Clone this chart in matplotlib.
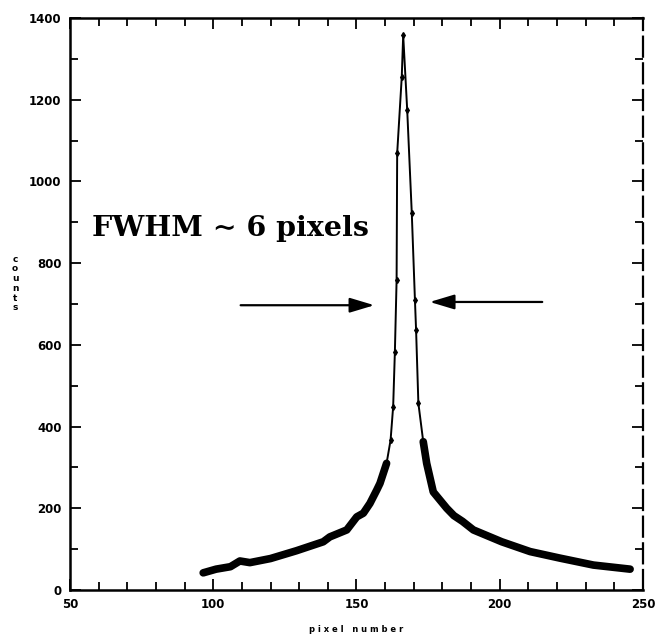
import matplotlib.pyplot as plt
import numpy as np

# pixel number vs counts
pix = np.array([96.5, 101, 106, 109.3, 112.8, 120, 129, 138.4, 140.7, 146.6,
                150.1, 152.4, 154.7, 157.1, 158.2, 160.5, 161.9, 162.8, 163.4, 164.0,
                164.2, 165.8, 166.3, 167.7, 169.3, 170.4, 170.8, 171.6, 173.3, 174.5,
                176.8, 181.5, 184, 187, 190.8, 200.7, 210.6, 221, 232.7, 245.5])
counts = np.array([42, 51, 57, 71, 67, 77, 96, 118, 130, 147,
                   179, 188, 212, 245, 261, 310, 367, 449, 583, 759,
                   1069, 1256, 1358, 1175, 922, 710, 636, 457, 363, 310,
                   240, 200, 182, 168, 147, 118, 94, 78, 61, 51])

fig = plt.figure(figsize=(6.57, 6.37), dpi=100)
ax = fig.add_axes([0.1065, 0.0738, 0.8722, 0.8979])

# thin line through everything, thick band in the dense tails
ax.plot(pix, counts, color='black', lw=1.4)
left = pix <= 160.5
right = pix >= 173.3
ax.plot(pix[left], counts[left], color='black', lw=5.5, solid_capstyle='round')
ax.plot(pix[right], counts[right], color='black', lw=5.5, solid_capstyle='round')
peak = (pix > 160.5) & (pix < 173.3)
ax.plot(pix[peak], counts[peak], ls='none', marker='d', ms=3, color='black')

ax.set_xlim(50, 250)
ax.set_ylim(0, 1400)
ax.set_xticks([50, 100, 150, 200, 250])
ax.set_xticks(np.arange(50, 251, 10), minor=True)
ax.set_yticks(np.arange(0, 1401, 200))
ax.set_yticks(np.arange(0, 1401, 100), minor=True)
ax.tick_params(which='both', direction='in', top=True, right=True, width=1.3)
ax.tick_params(which='major', length=8, labelsize=8.5, pad=6)
ax.tick_params(which='minor', length=6)
for lab in ax.get_xticklabels() + ax.get_yticklabels():
    lab.set_fontweight('bold')

for s in ['left', 'bottom', 'top']:
    ax.spines[s].set_linewidth(1.8)
ax.spines['right'].set_linewidth(1.6)
ax.spines['right'].set_linestyle((0, (9, 3)))

ax.set_xlabel('p i x e l   n u m b e r', fontsize=6, fontweight='bold', labelpad=10)
fig.text(0.023, 0.555, 'c\no\nu\nn\nt\ns', fontsize=6.5, fontweight='bold',
         ha='center', va='center', linespacing=1.1)

ax.text(57.7, 886, 'FWHM \u223c 6 pixels', fontsize=20.5, fontweight='bold',
        family=['DejaVu Serif', 'DejaVu Sans'], ha='left', va='center')

arrow = dict(arrowstyle='-|>,head_length=1.5,head_width=0.45', color='black', lw=1.6)
ax.annotate('', xy=(157.2, 697), xytext=(108.6, 697), arrowprops=arrow)
ax.annotate('', xy=(174.6, 705), xytext=(215.8, 705), arrowprops=arrow)

fig.savefig('out.png', dpi=100)
